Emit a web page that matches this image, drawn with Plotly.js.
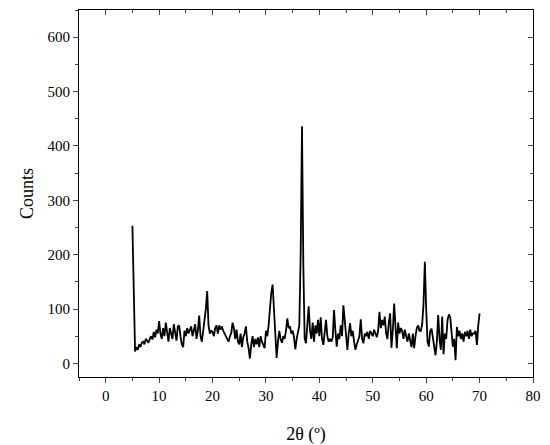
<!DOCTYPE html>
<html>
<head>
<meta charset="utf-8">
<script src="https://cdn.plot.ly/plotly-3.0.1.min.js"></script>
<style>
  body { margin: 0; background: #fff; }
  #plot { width: 550px; height: 445px; }
</style>
</head>
<body>
<div id="plot"></div>
<script>
// XRD pattern, sampled every 0.25 deg from 5 to 70 (2 theta)
var startAngle = 5;
var stepAngle = 0.25;
var counts = [
  253, 137, 22, 30,    // 5
  25, 35, 30, 38,      // 6
  40, 35, 45, 42,      // 7
  38, 45, 50, 44,      // 8
  58, 48, 62, 55,      // 9
  78, 55, 45, 65,      // 10
  50, 75, 60, 40,      // 11
  65, 55, 45, 72,      // 12
  55, 42, 68, 70,      // 13
  50, 35, 30, 60,      // 14
  50, 65, 55, 60,      // 15
  68, 50, 62, 72,      // 16
  45, 60, 88, 50,      // 17
  40, 60, 75, 100,     // 18
  133, 70, 55, 60,     // 19
  58, 50, 65, 70,      // 20
  55, 70, 62, 68,      // 21
  60, 55, 50, 42,      // 22
  40, 50, 55, 75,      // 23
  65, 45, 62, 40,      // 24
  35, 55, 30, 48,      // 25
  55, 68, 40, 28,      // 26
  9, 35, 50, 30,       // 27
  45, 35, 48, 30,      // 28
  50, 40, 32, 28,      // 29
  60, 50, 70, 110,     // 30
  130, 145, 95, 40,    // 31
  10, 40, 60, 45,      // 32
  38, 50, 45, 60,      // 33
  83, 65, 68, 55,      // 34
  60, 48, 26, 45,      // 35
  60, 70, 200, 436,    // 36
  180, 45, 37, 70,     // 37
  105, 60, 45, 75,     // 38
  40, 70, 55, 80,      // 39
  50, 85, 45, 34,      // 40
  60, 80, 50, 40,      // 41
  45, 40, 48, 98,      // 42
  60, 31, 55, 45,      // 43
  70, 50, 107, 80,     // 44
  40, 25, 55, 74,      // 45
  50, 60, 40, 25,      // 46
  35, 45, 50, 81,      // 47
  45, 37, 55, 50,      // 48
  58, 45, 60, 55,      // 49
  50, 62, 55, 48,      // 50
  60, 95, 65, 80,      // 51
  70, 86, 55, 45,      // 52
  75, 92, 29, 60,      // 53
  110, 65, 28, 75,     // 54
  55, 65, 60, 45,      // 55
  62, 50, 40, 55,      // 56
  45, 30, 55, 28,      // 57
  50, 65, 70, 60,      // 58
  60, 72, 110, 187,    // 59
  100, 40, 31, 60,     // 60
  64, 45, 30, 15,      // 61
  40, 89, 45, 25,      // 62
  86, 17, 55, 45,      // 63
  80, 90, 85, 50,      // 64
  31, 45, 6, 67,       // 65
  50, 60, 45, 55,      // 66
  40, 58, 50, 60,      // 67
  45, 62, 50, 55,      // 68
  55, 60, 34, 70,      // 69
  92                   // 70
];

var xTicks = [0, 10, 20, 30, 40, 50, 60, 70, 80];
var yTicks = [0, 100, 200, 300, 400, 500, 600];
var xRange = [-5, 80];
var yRange = [-25, 650];

var serif = 'Liberation Serif';

var trace = {
  x0: startAngle,
  dx: stepAngle,
  y: counts,
  type: 'scatter',
  mode: 'lines',
  line: { color: '#000', width: 1.8 }
};

// empty trace so the top/right axes get drawn with inward ticks
var frame = { x: [], y: [], xaxis: 'x2', yaxis: 'y2' };

var layout = {
  width: 550,
  height: 445,
  margin: { l: 79, r: 17, t: 10, b: 68 },
  showlegend: false,
  font: { family: serif, size: 15, color: '#000' },
  xaxis: {
    range: xRange,
    tickvals: xTicks,
    ticks: 'outside', ticklen: 5,
    minor: { dtick: 5, tick0: 0, ticks: 'outside', ticklen: 3, showgrid: false },
    showline: true, linecolor: '#000',
    showgrid: false, zeroline: false,
    tickfont: { family: serif, size: 15, color: '#000' },
    title: { text: '2θ (º)' }
  },
  yaxis: {
    range: yRange,
    tickvals: yTicks,
    ticks: 'outside', ticklen: 5,
    minor: { dtick: 50, tick0: 0, ticks: 'outside', ticklen: 3, showgrid: false },
    showline: true, linecolor: '#000',
    showgrid: false, zeroline: false,
    tickfont: { family: serif, size: 15, color: '#000' },
    title: { text: 'Counts' }
  },
  xaxis2: {
    overlaying: 'x', side: 'top', anchor: 'y2',
    range: xRange, tickvals: xTicks,
    ticks: 'inside', ticklen: 5,
    minor: { dtick: 5, tick0: 0, ticks: 'inside', ticklen: 3, showgrid: false },
    showticklabels: false,
    showline: true, linecolor: '#000',
    showgrid: false, zeroline: false
  },
  yaxis2: {
    overlaying: 'y', side: 'right', anchor: 'x2',
    range: yRange, tickvals: yTicks,
    ticks: 'inside', ticklen: 5,
    minor: { dtick: 50, tick0: 0, ticks: 'inside', ticklen: 3, showgrid: false },
    showticklabels: false,
    showline: true, linecolor: '#000',
    showgrid: false, zeroline: false
  }
};

Plotly.newPlot('plot', [trace, frame], layout, { staticPlot: true });
</script>
</body>
</html>
